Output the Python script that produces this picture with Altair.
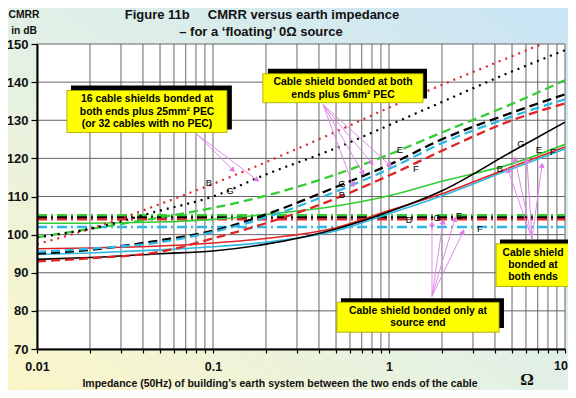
import altair as alt
import pandas as pd

# ---------------- data ----------------
IMPEDANCE = [0.01, 0.02, 0.05, 0.1, 0.2, 0.5, 1, 2, 5, 10]

# 16 cable shields bonded at both ends plus 25mm2 PEC (dotted)
DOT_RED = [97.5, 101.5, 108.0, 113.3, 119.0, 127.0, 133.3, 139.3, 146.8, 152.5]
DOT_BLACK = [99.3, 101.5, 106.3, 110.0, 115.8, 122.7, 128.7, 134.8, 142.8, 148.4]
# cable shield bonded at both ends plus 6mm2 PEC (dashed)
DASH_GREEN = [99.3, 101.5, 104.5, 107.0, 110.2, 115.8, 121.0, 126.8, 134.3, 140.5]
DASH_BLACK = [95.0, 96.0, 98.5, 101.0, 105.3, 112.5, 118.3, 125.0, 132.0, 136.8]
DASH_CYAN = [95.5, 96.3, 98.0, 100.7, 104.5, 111.3, 117.2, 124.0, 131.0, 135.5]
DASH_RED = [93.0, 93.8, 95.5, 99.0, 103.0, 109.5, 115.5, 122.0, 130.0, 134.4]
# cable shield bonded at both ends (solid)
SOLID_BLACK = [93.5, 94.0, 95.0, 95.7, 97.5, 101.5, 106.0, 111.5, 121.8, 129.5]
SOLID_GREEN = [103.0, 103.0, 103.3, 104.0, 105.3, 107.5, 110.2, 114.0, 118.6, 123.7]
SOLID_RED = [96.3, 96.5, 97.0, 97.8, 99.0, 101.8, 106.3, 110.7, 117.8, 123.0]
SOLID_CYAN = [94.8, 95.2, 96.0, 96.8, 98.0, 101.0, 105.5, 110.2, 117.3, 122.5]
# cable shield bonded only at source end (flat, dash-dot)
FLAT_SERIES = ["green", "black", "red", "cyan"]
FLAT_LEVEL = [105.1, 104.5, 104.0, 102.0]

COLORS = {"green": "#33cc33", "black": "#000000", "red": "#e02424", "cyan": "#2fb8e6"}

X_GRID = [m * 10.0 ** e for e in (-2, -1, 0) for m in range(1, 10)] + [10.0]
X_GRID = [float(f"{v:.4g}") for v in X_GRID]
Y_GRID = list(range(70, 151, 10))

# annotation boxes (data units)
BOX_X1 = [0.0148, 0.192, 0.506, 4.06]
BOX_X2 = [0.120, 1.56, 4.22, 10.67]
BOX_Y1 = [137.8, 142.2, 82.25, 97.6]
BOX_Y2 = [126.8, 134.6, 74.4, 86.4]
SHD_X1 = [0.0156, 0.205, 0.533, 4.27]
SHD_X2 = [0.128, 1.644, 4.50, 11.4]
SHD_Y1 = [139.1, 143.5, 83.3, 98.7]
SHD_Y2 = [127.6, 135.7, 75.5, 87.7]

BOX_TEXT = ["16 cable shields bonded at", "both ends plus 25mm\u00b2 PEC", "(or 32 cables with no PEC)",
            "Cable shield bonded at both", "ends plus 6mm\u00b2 PEC",
            "Cable shield bonded only at", "source end",
            "Cable shield", "bonded at", "both ends"]
BOX_TX = [0.0422, 0.0422, 0.0422, 0.548, 0.548, 1.461, 1.461, 6.58, 6.58, 6.58]
BOX_TY = [135.5, 132.2, 129.0, 140.0, 136.6, 79.9, 76.8, 95.3, 92.0, 88.8]

# arrows
AR_X0 = [0.0811, 0.0811, 0.4217, 0.4217, 0.4217, 0.4217, 1.755, 1.755, 1.755, 1.755, 6.49, 6.49, 6.49, 6.49]
AR_Y0 = [126.3, 126.3, 134.1, 134.1, 134.1, 134.1, 83.8, 83.8, 83.8, 83.8, 98.9, 98.9, 98.9, 98.9]
AR_X1 = [0.130, 0.178, 0.6245, 0.711, 0.80, 1.013, 1.755, 2.027, 2.371, 2.634, 4.75, 5.20, 6.08, 7.40]
AR_Y1 = [116.9, 114.3, 113.0, 116.1, 118.7, 118.2, 102.8, 103.4, 104.1, 100.75, 116.9, 119.8, 119.5, 118.2]
AR_ANG = [135, 127, 160, 150, 145, 140, 0, 8, 16, 25, 341, 348, 356, 8]

# letter labels
LET_T = ["B", "G", "G", "B", "E", "F", "G", "E", "F", "B", "B", "G", "E", "F"]
LET_X = [0.0948, 0.125, 0.541, 0.541, 1.155, 1.423, 5.62, 7.11, 8.55, 4.27, 1.299, 1.874, 2.50, 3.29]
LET_Y = [113.5, 111.4, 113.3, 110.4, 122.1, 117.2, 123.9, 122.1, 121.6, 117.2, 103.9, 104.4, 104.9, 101.5]

X_LABELS = ["0.01", "0.1", "1"]
LAST_LABEL = 10

# ---------------- tables ----------------
def series_frame(named):
    rows = []
    for name, vals in named:
        for x, v in zip(IMPEDANCE, vals):
            rows.append({"imp": x, "cmrr": v, "series": name})
    return pd.DataFrame(rows)

dotted = series_frame([("red", DOT_RED), ("black", DOT_BLACK)])
dashed = series_frame([("green", DASH_GREEN), ("black", DASH_BLACK), ("cyan", DASH_CYAN), ("red", DASH_RED)])
solid = series_frame([("green", SOLID_GREEN), ("cyan", SOLID_CYAN), ("red", SOLID_RED), ("black", SOLID_BLACK)])
flat = series_frame([(s, [lv] * len(IMPEDANCE)) for s, lv in zip(FLAT_SERIES, FLAT_LEVEL)])

boxes = pd.DataFrame({"x1": BOX_X1, "x2": BOX_X2, "y1": BOX_Y1, "y2": BOX_Y2})
shadows = pd.DataFrame({"x1": SHD_X1, "x2": SHD_X2, "y1": SHD_Y1, "y2": SHD_Y2})
btext = pd.DataFrame({"x": BOX_TX, "y": BOX_TY, "t": BOX_TEXT})
arrows = pd.DataFrame({"x0": AR_X0, "y0": AR_Y0, "x1": AR_X1, "y1": AR_Y1, "a": AR_ANG})
letters = pd.DataFrame({"x": LET_X, "y": LET_Y, "t": LET_T})
one = pd.DataFrame({"k": [0]})

# ---------------- scales / axes ----------------
XS = alt.Scale(type="log", domain=[0.01, 10], nice=False)
YS = alt.Scale(domain=[70, 150], nice=False, zero=False)
FONT = "Liberation Sans"
XAX = alt.Axis(values=X_GRID, format="~g",
               labelExpr="indexof(" + str(X_LABELS) + ", datum.label) >= 0 ? datum.label : ''",
               grid=False, tickSize=4, tickColor="black", tickWidth=1.2,
               domainColor="black", domainWidth=2, labelFont=FONT, labelFontWeight="bold",
               labelFontSize=12.5, labelColor="#111111", labelPadding=7, title=None,
               zindex=1, labelFlush=False, labelOverlap=False)
YAX = alt.Axis(values=Y_GRID, grid=False, tickSize=6, tickColor="black", tickWidth=1.2,
               domainColor="black", domainWidth=2, labelFont=FONT, labelFontWeight="bold",
               labelFontSize=13, labelColor="#111111", labelPadding=3, title=None, zindex=1)

def X(f):
    return alt.X(f, type="quantitative", scale=XS, axis=XAX)

def Y(f):
    return alt.Y(f, type="quantitative", scale=YS, axis=YAX)

color = alt.Color("series:N", scale=alt.Scale(domain=list(COLORS), range=list(COLORS.values())), legend=None)

W, H = 528, 305
PT, PB = 36, 41

bg = alt.Chart(one).mark_rect(fill={"gradient": "linear", "x1": 1, "y1": 0, "x2": 0, "y2": 1,
                                    "stops": [{"offset": 0, "color": "#c9e4f6"},
                                              {"offset": 0.55, "color": "#e4f1e4"},
                                              {"offset": 1, "color": "#fbf6c8"}]}).encode(
    x=alt.value(-29), x2=alt.value(W + 3), y=alt.value(-PT), y2=alt.value(H + PB))
plot_bg = alt.Chart(one).mark_rect(fill="white").encode(
    x=alt.value(0), x2=alt.value(W), y=alt.value(0), y2=alt.value(H))

vgrid = alt.Chart(pd.DataFrame({"g": X_GRID})).mark_rule(color="#666666", strokeWidth=1).encode(x=X("g"))
hgrid = alt.Chart(pd.DataFrame({"g": Y_GRID})).mark_rule(color="#666666", strokeWidth=1).encode(y=Y("g"))

def lines(df, **kw):
    return alt.Chart(df).mark_line(clip=True, interpolate="monotone", **kw).encode(
        x=X("imp"), y=Y("cmrr"), color=color, detail="series:N")

l_flat = lines(flat, strokeWidth=2.4, strokeDash=[10, 4, 2, 4])
l_solid = lines(solid, strokeWidth=1.6)
l_dash = lines(dashed, strokeWidth=2.3, strokeDash=[9, 5])
l_dot = lines(dotted, strokeWidth=2.2, strokeDash=[2, 5])

ar_lines = alt.Chart(arrows).mark_rule(color="#e08ae8", strokeWidth=1).encode(
    x=X("x0"), y=Y("y0"), x2="x1", y2="y1")
ar_heads = alt.Chart(arrows).mark_point(shape="triangle-up", filled=True, size=38, color="#e07ae8", opacity=1).encode(
    x=X("x1"), y=Y("y1"), angle=alt.Angle("a:Q", scale=None))

let = alt.Chart(letters).mark_text(font=FONT, fontSize=9.5, color="black").encode(
    x=X("x"), y=Y("y"), text="t:N")

shd = alt.Chart(shadows).mark_rect(fill="black").encode(x=X("x1"), x2="x2", y=Y("y1"), y2="y2")
box = alt.Chart(boxes).mark_rect(fill="#ffff00", stroke="#a0a000", strokeWidth=0.8).encode(
    x=X("x1"), x2="x2", y=Y("y1"), y2="y2")
btxt = alt.Chart(btext).mark_text(font=FONT, fontWeight="bold", fontSize=10.4, color="black",
                                  baseline="middle").encode(x=X("x"), y=Y("y"), text="t:N")

# last x tick label, kept inside the page's right edge
last_lab = alt.Chart(pd.DataFrame({"v": [LAST_LABEL], "t": [str(LAST_LABEL)]})).mark_text(
    font=FONT, fontWeight="bold", fontSize=12.5, color="#111111", align="right", baseline="top", dx=3, dy=11
).encode(x=X("v"), y=alt.value(H), text="t:N")

def label(txt, x, y, size, **kw):
    return alt.Chart(one).mark_text(text=txt, fontSize=size, baseline="middle", **kw).encode(
        x=alt.value(x), y=alt.value(y))

t1 = label("Figure 11b\u00a0\u00a0\u00a0\u00a0\u00a0CMRR versus earth impedance", 225, -29, 13,
           font=FONT, fontWeight="bold", color="#111111")
t2 = label("\u2013 for a \u2018floating\u2019 0\u03a9 source", 224, -12, 13, font=FONT, fontWeight="bold", color="#111111")
c1 = label("CMRR", -13, -29, 10.3, font=FONT, fontWeight="bold", color="#111111")
c2 = label("in dB", -13, -13, 10.3, font=FONT, fontWeight="bold", color="#111111")
xt = label("Impedance (50Hz) of building\u2019s earth system between the two ends of the cable", 243, H + 35, 10.5,
           font=FONT, fontWeight="bold", color="#111111")
om = label("\u03a9", 490, H + 31, 17, font="Liberation Serif", fontWeight="bold", color="#111111")

chart = alt.layer(bg, plot_bg, vgrid, hgrid, l_flat, l_solid, l_dash, l_dot,
                  ar_lines, ar_heads, let, shd, box, btxt, last_lab, t1, t2, c1, c2, xt, om).properties(
    width=W, height=H, autosize="none",
    padding={"left": 29, "top": PT, "right": 3, "bottom": PB},
).configure_view(stroke=None)

chart.save("out.html", embed_options={"renderer": "svg", "actions": False})
